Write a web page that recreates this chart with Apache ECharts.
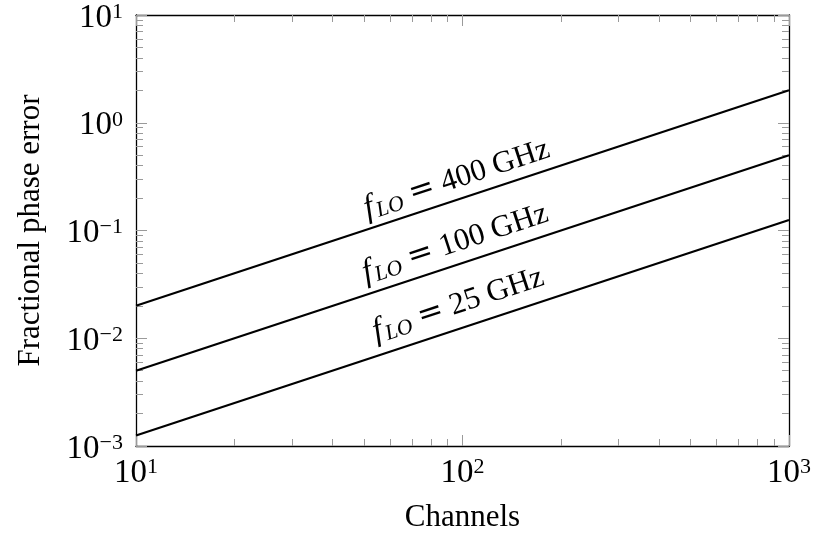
<!DOCTYPE html>
<html>
<head>
<meta charset="utf-8">
<script src="https://cdn.jsdelivr.net/npm/echarts@6/dist/echarts.min.js"></script>
<style>
  html, body { margin: 0; padding: 0; background: #ffffff; }
  #chart { width: 814px; height: 538px; }
</style>
</head>
<body>
<div id="chart"></div>
<script>
// Phase error versus channel count for three LO frequencies (log-log).
const channels = [10, 1000];
const err400 = [0.02, 2];
const err100 = [0.005, 0.5];
const err25 = [0.00125, 0.125];
const loFreqs = ['400', '100', '25'];
// Where each curve's annotation is centred, in data units [channels, error].
const labelAnchors = [[96, 0.30], [95, 0.076], [97, 0.0205]];

const xMajorTicks = [10, 100, 1000];
const yMajorTicks = [0.001, 0.01, 0.1, 1, 10];

function minorTicks(decades) {
  const out = [];
  decades.forEach(d => { for (let m = 2; m <= 9; m++) out.push(+(m * d).toPrecision(3)); });
  return out;
}
const xMinorTicks = minorTicks([10, 100]);
const yMinorTicks = minorTicks([0.001, 0.01, 0.1, 1]);

const FONT = 'Liberation Serif';
const TICK_COLOR = '#9a9a9a';

function powLabel(v) {
  const e = Math.round(Math.log10(v));
  return '{b|10}{s|' + String(e).replace('-', '\u2212') + '}';
}
const powRich = {
  b: { fontFamily: FONT, fontSize: 33, lineHeight: 34, color: '#000' },
  s: { fontFamily: FONT, fontSize: 22, lineHeight: 20, verticalAlign: 'top', color: '#000' }
};

function majorAxis(pos, ticks, withLabels, extra) {
  return Object.assign({
    type: 'log', logBase: 10, position: pos,
    axisLine: { show: true, onZero: false, lineStyle: { color: '#000', width: 1.3 } },
    axisTick: { show: true, inside: true, length: 11, customValues: ticks,
                lineStyle: { color: TICK_COLOR, width: 1 } },
    minorTick: { show: false },
    splitLine: { show: false },
    axisLabel: withLabels ? {
      show: true, customValues: ticks, formatter: powLabel, rich: powRich,
      fontFamily: FONT, color: '#000'
    } : { show: false }
  }, extra);
}
function minorAxis(pos, ticks, extra) {
  return Object.assign({
    type: 'log', logBase: 10, position: pos,
    axisLine: { show: false },
    axisTick: { show: true, inside: true, length: 7, customValues: ticks,
                lineStyle: { color: TICK_COLOR, width: 1 } },
    splitLine: { show: false },
    axisLabel: { show: false }
  }, extra);
}

const xRange = { min: 10, max: 1000 };
const yRange = { min: 0.001, max: 10 };

const xAxes = [
  majorAxis('bottom', xMajorTicks, true, Object.assign({
    name: 'Channels', nameLocation: 'middle', nameGap: 56,
    nameTextStyle: { fontFamily: FONT, fontSize: 31, color: '#000' }
  }, xRange)),
  majorAxis('top', xMajorTicks, false, xRange),
  minorAxis('bottom', xMinorTicks, xRange),
  minorAxis('top', xMinorTicks, xRange)
];
xAxes[0].axisLabel.margin = 10;

const yAxes = [
  majorAxis('left', yMajorTicks, true, Object.assign({
    name: 'Fractional phase error', nameLocation: 'middle', nameGap: 90, nameRotate: 90,
    nameTextStyle: { fontFamily: FONT, fontSize: 31, color: '#000' }
  }, yRange)),
  majorAxis('right', yMajorTicks, false, yRange),
  minorAxis('left', yMinorTicks, yRange),
  minorAxis('right', yMinorTicks, yRange)
];
yAxes[0].axisLabel.margin = 13;
yAxes[0].axisLabel.padding = [6, 0, 0, 0];

const curveRich = {
  f: { fontFamily: FONT, fontStyle: 'italic', fontSize: 33, lineHeight: 34, color: '#000' },
  sub: { fontFamily: FONT, fontStyle: 'italic', fontSize: 22, lineHeight: 22,
         verticalAlign: 'bottom', color: '#000', padding: [0, 0, 0, 2] },
  eq: { fontFamily: 'DejaVu Serif', fontSize: 31, lineHeight: 34, color: '#000', padding: [0, 8, 0, 8] },
  t: { fontFamily: FONT, fontSize: 31, lineHeight: 34, color: '#000' }
};

const seriesValues = [err400, err100, err25];
const series = seriesValues.map((vals, i) => ({
  type: 'line',
  name: loFreqs[i] + ' GHz',
  data: channels.map((c, k) => [c, vals[k]]),
  xAxisIndex: 0, yAxisIndex: 0,
  symbol: 'none',
  lineStyle: { color: '#000', width: 2.2 },
  animation: false,
  silent: true,
  markPoint: {
    symbol: 'circle', symbolSize: 0, silent: true, animation: false,
    data: [{
      coord: labelAnchors[i],
      label: {
        show: true, position: 'inside', rotate: 18.2,
        formatter: '{f|f}{sub|LO}{eq|=}{t|' + loFreqs[i] + ' GHz}',
        rich: curveRich
      }
    }]
  }
}));

const chart = echarts.init(document.getElementById('chart'), null, { renderer: 'canvas' });
chart.setOption({
  backgroundColor: '#ffffff',
  animation: false,
  grid: { left: 136, right: 21, top: 15, bottom: 90, containLabel: false },
  xAxis: xAxes,
  yAxis: yAxes,
  series: series
});
</script>
</body>
</html>
